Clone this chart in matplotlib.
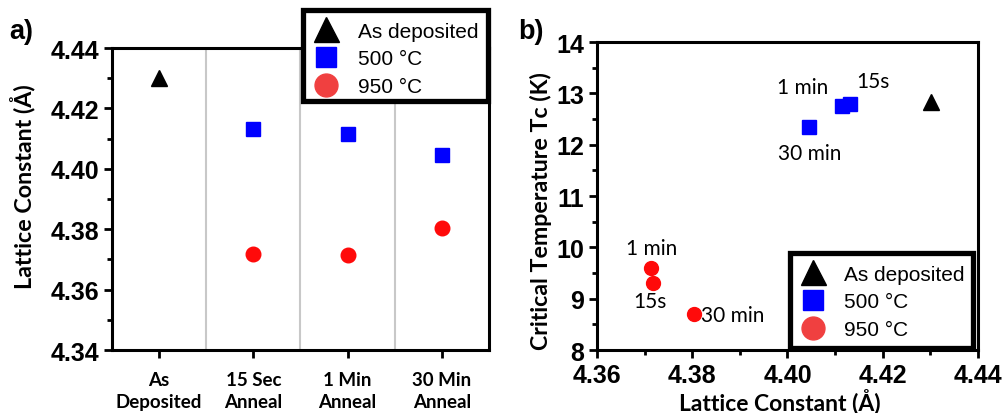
import numpy as np
import matplotlib
matplotlib.use('Agg')
import matplotlib.pyplot as plt
from matplotlib.ticker import MultipleLocator, FormatStrFormatter
from matplotlib.lines import Line2D
from matplotlib.patches import Rectangle

# Data
categories = ['As\nDeposited', '15 Sec\nAnneal', '1 Min\nAnneal', '30 Min\nAnneal']
lat_asdep = [4.4302]
lat_500 = [4.4131, 4.4114, 4.4046]     # 15 s, 1 min, 30 min
lat_950 = [4.3717, 4.3714, 4.3804]
tc_asdep = [12.83]
tc_500 = [12.80, 12.75, 12.34]
tc_950 = [9.30, 9.60, 8.70]
labels_500 = ['15s', '1 min', '30 min']
labels_950 = ['15s', '1 min', '30 min']

BLUE = '#0000ff'
RED = '#ff0a0a'
tick_font = dict(family='Liberation Sans', weight='bold', size=18)
lab_font = dict(family='Lato', weight='bold', size=17)
ann_font = dict(family='Lato', size=15)

fig = plt.figure(figsize=(10.06, 4.14), dpi=100)


def style_axes(ax):
    for sp in ax.spines.values():
        sp.set_linewidth(2.2)
    ax.tick_params(which='both', direction='out', width=2.0)
    ax.tick_params(which='major', length=6)
    ax.tick_params(which='minor', length=3.5)
    for t in ax.get_yticklabels():
        t.set_fontproperties(tick_font)


def fit_length(txt, target_px):
    # scale a label so its length in pixels matches the reference
    fig.canvas.draw()
    bb = txt.get_window_extent()
    length = max(bb.width, bb.height)
    txt.set_fontsize(txt.get_fontsize() * target_px / length)


def make_legend(frame_box, anchor, textpad):
    # thick black frame drawn separately, rows placed inside it
    fig.add_artist(Rectangle(frame_box[:2], frame_box[2], frame_box[3],
                             transform=fig.transFigure, fc='white', ec='k',
                             lw=3.8, zorder=4))
    handles = [
        Line2D([], [], ls='none', marker='^', color='k', ms=18),
        Line2D([], [], ls='none', marker='s', color=BLUE, ms=14),
        Line2D([], [], ls='none', marker='o', color='#f04040', ms=16.5),
    ]
    leg = fig.legend(handles, ['As deposited', '500 \u00b0C', '950 \u00b0C'],
                     loc='center left', bbox_to_anchor=anchor,
                     prop=dict(family='Liberation Sans', size=15),
                     frameon=False, handletextpad=textpad, borderpad=0,
                     labelspacing=0.43, handlelength=1.6, borderaxespad=0)
    leg.set_zorder(6)
    return leg


# Panel a)
ax1 = fig.add_axes([0.1113, 0.152, 0.3748, 0.7295])
x = np.arange(len(categories))
ax1.plot(x[:1], lat_asdep, ls='none', marker='^', color='k', ms=11)
ax1.plot(x[1:], lat_500, ls='none', marker='s', color=BLUE, ms=10)
ax1.plot(x[1:], lat_950, ls='none', marker='o', color=RED, ms=10.5)
for xs in [0.5, 1.5, 2.5]:
    ax1.axvline(xs, color='#c8c8c8', lw=1.5, zorder=0)
ax1.set_xlim(-0.5, 3.5)
ax1.set_ylim(4.34, 4.44)
ax1.set_xticks(x)
ax1.set_xticklabels(categories, fontdict=dict(family='Lato', weight='bold', size=13.5),
                    linespacing=1.35)
ax1.tick_params(axis='x', pad=9)
ax1.yaxis.set_major_locator(MultipleLocator(0.02))
ax1.yaxis.set_minor_locator(MultipleLocator(0.01))
ax1.yaxis.set_major_formatter(FormatStrFormatter('%.2f'))
ylab1 = ax1.set_ylabel('Lattice Constant (\u00c5)', fontdict=lab_font)
ax1.yaxis.set_label_coords(-0.204, 0.543)
style_axes(ax1)
fig.text(0.009, 0.905, 'a)', family='Liberation Sans', weight='bold', size=19.5)
make_legend((0.3007, 0.7548, 0.1839, 0.2198), (0.3076, 1 - 60 / 414), 0.75)

# Panel b)
ax2 = fig.add_axes([0.5934, 0.152, 0.3787, 0.744])
ax2.plot(lat_asdep, tc_asdep, ls='none', marker='^', color='k', ms=11)
ax2.plot(lat_500, tc_500, ls='none', marker='s', color=BLUE, ms=10)
ax2.plot(lat_950, tc_950, ls='none', marker='o', color=RED, ms=10)
ax2.set_xlim(4.36, 4.44)
ax2.set_ylim(8, 14)
ax2.xaxis.set_major_locator(MultipleLocator(0.02))
ax2.xaxis.set_minor_locator(MultipleLocator(0.01))
ax2.xaxis.set_major_formatter(FormatStrFormatter('%.2f'))
ax2.yaxis.set_major_locator(MultipleLocator(1))
ax2.yaxis.set_minor_locator(MultipleLocator(0.5))
xlab2 = ax2.set_xlabel('Lattice Constant (\u00c5)', fontdict=lab_font, va='baseline')
ylab2 = ax2.set_ylabel('Critical Temperature Tc (K)', fontdict=lab_font)
ax2.xaxis.set_label_coords(0.480, -0.1916)
ax2.yaxis.set_label_coords(-0.118, 0.4545)
style_axes(ax2)
for t in ax2.get_xticklabels():
    t.set_fontproperties(tick_font)

# point annotations (offsets in points)
offs_500 = [(17, 16), (-28.5, 14), (0, -18.5)]
offs_950 = [(-2, -12.5), (0, 14.5), (5, -0.5)]
for xv, yv, s, o in zip(lat_500, tc_500, labels_500, offs_500):
    ax2.annotate(s, (xv, yv), xytext=o, textcoords='offset points',
                 ha='center', va='center', **ann_font)
for xv, yv, s, o, ha in zip(lat_950, tc_950, labels_950, offs_950,
                            ['center', 'center', 'left']):
    ax2.annotate(s, (xv, yv), xytext=o, textcoords='offset points',
                 ha=ha, va='center', **ann_font)
fig.text(0.515, 0.905, 'b)', family='Liberation Sans', weight='bold', size=19.5)
make_legend((0.7848, 0.1558, 0.1819, 0.2295), (0.7917, 1 - 303 / 414), 0.7)

fit_length(ylab1, 205)
fit_length(xlab2, 202)
fit_length(ylab2, 278)

fig.savefig('out.png', dpi=100)
